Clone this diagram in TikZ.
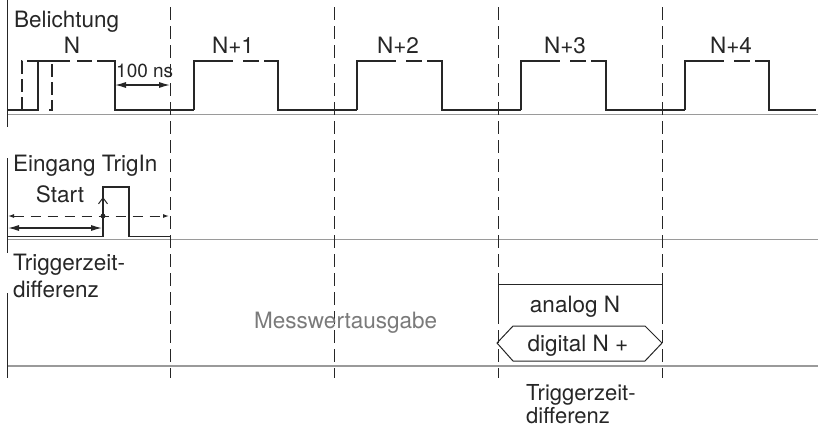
\documentclass[tikz,border=0pt]{standalone}
\usepackage{fontspec}
\setmainfont{TeX Gyre Heros}
\usetikzlibrary{arrows.meta}
\definecolor{ink}{HTML}{262626}
\definecolor{sepgray}{HTML}{9A9A9A}
\definecolor{msgray}{HTML}{7A7A7A}
\begin{document}
\begin{tikzpicture}[x=1bp,y=-1bp,
  sig/.style={draw=ink,line width=1.3bp},
  sigdash/.style={sig,dash pattern=on 13bp off 5bp},
  sep/.style={draw=sepgray,line width=1.5bp},
  gridline/.style={draw=ink,line width=1bp,dash pattern=on 13bp off 6bp},
  axis/.style={draw=ink,line width=1bp},
  lbl/.style={inner sep=0,text=ink,font=\fontsize{22.5bp}{27bp}\selectfont},
  smalllbl/.style={inner sep=0,text=ink,font=\fontsize{19bp}{22bp}\selectfont},
  notelbl/.style={inner sep=0,text=ink,font=\fontsize{22bp}{25bp}\selectfont},
  graylbl/.style={inner sep=0,text=msgray,font=\fontsize{22.5bp}{27bp}\selectfont},
  bigtip/.style={{Latex[length=11bp,width=6bp]}-{Latex[length=11bp,width=6bp]}},
  smalltip/.style={{Latex[length=6bp,width=4bp]}-{Latex[length=6bp,width=4bp]}}
]
\useasboundingbox (0,0) rectangle (818,429);

% separators
\draw[sep] (7,114.5) -- (818,114.5);
\draw[sep] (7,239.5) -- (818,239.5);
\draw[sep] (7,366) -- (818,366);

% left axis
\draw[axis] (7,0) -- (7,127);
\draw[axis] (7,158) -- (7,253);
\draw[axis] (7,293) -- (7,378);

% dashed verticals
\foreach \gx in {170,334,498,662}
  \draw[gridline] (\gx,7) -- (\gx,378);

% Row 1: Belichtung
\node[lbl,anchor=base west] (bel) at (14,27) {Belichtung};
\draw[sig] (7,110) -- (38,110) -- (38,61) -- (70,61);
\draw[sig] (77,61) -- (92,61);
\draw[sig] (97,61) -- (115,61) -- (115,110) -- (194,110);
\draw[sigdash] (22,110) -- (22,61) -- (38,61);
\draw[sigdash] (52,64) -- (52,110) -- (44,110);
\foreach \r/\f/\nx in {194/278/357,357/442/521,521/606/685,685/769/816}{
  \draw[sig] (\r,110) -- (\r,61) -- ({\r+39},61);
  \draw[sig] ({\r+49},61) -- ({\r+65},61);
  \draw[sig] ({\r+70},61) -- (\f,61) -- (\f,110) -- (\nx,110);
}
\node[lbl,anchor=base] (n0) at (72,53) {N};
\node[lbl,anchor=base] (n1) at (233,53) {N+1};
\node[lbl,anchor=base] (n2) at (398,53) {N+2};
\node[lbl,anchor=base] (n3) at (565,53) {N+3};
\node[lbl,anchor=base] (n4) at (731,53) {N+4};

\node[smalllbl,anchor=base west] (ns) at (116,77) {100 ns};
\coordinate (nsL) at (115,85);
\coordinate (nsR) at (170,85);
\draw[ink,line width=1.2bp,bigtip] (nsL) -- (nsR);

% Row 2: Eingang TrigIn
\node[lbl,anchor=base west] (trig) at (13,171) {Eingang TrigIn};
\node[lbl,anchor=base] (start) at (60,202) {Start};
\draw[sig] (7,236.5) -- (103,236.5) -- (103,187) -- (129,187) -- (129,236.5) -- (170,236.5);
\coordinate (dL) at (8,216);
\coordinate (dR) at (169,216);
\draw[ink,line width=1bp,dash pattern=on 10bp off 7bp,smalltip] (dL) -- (dR);
\coordinate (dot) at (103,216);
\coordinate (upt) at (103,197);
\draw[ink,line width=1bp,-{Straight Barb[length=6bp,width=9bp]}] (dot) -- (upt);
\fill[ink] (dot) circle (2.4bp);
\coordinate (sL) at (8,228);
\coordinate (sR) at (102,228);
\draw[ink,line width=1.2bp,bigtip] (sL) -- (sR);

% Row 3: Triggerzeitdifferenz
\node[lbl,anchor=base west] (td1) at (13,270) {Triggerzeit-};
\node[lbl,anchor=base west] (td2) at (13,297) {differenz};
\node[graylbl,anchor=base west] (mw) at (254,328) {Messwertausgabe};
\draw[ink,line width=1bp] (498,320) -- (498,284) -- (662,284) -- (662,320);
\node[lbl,anchor=base] (an) at (575,312) {analog N};
\draw[ink,line width=1bp] (497,343) -- (513,326) -- (645,326) -- (662,343) -- (645,361) -- (513,361) -- cycle;
\node[lbl,anchor=base] (dg) at (578,351) {digital N +};

% bottom note
\node[notelbl,anchor=base west] (bt1) at (526,400) {Triggerzeit-};
\node[notelbl,anchor=base west] (bt2) at (526,423) {differenz};
\end{tikzpicture}
\end{document}
